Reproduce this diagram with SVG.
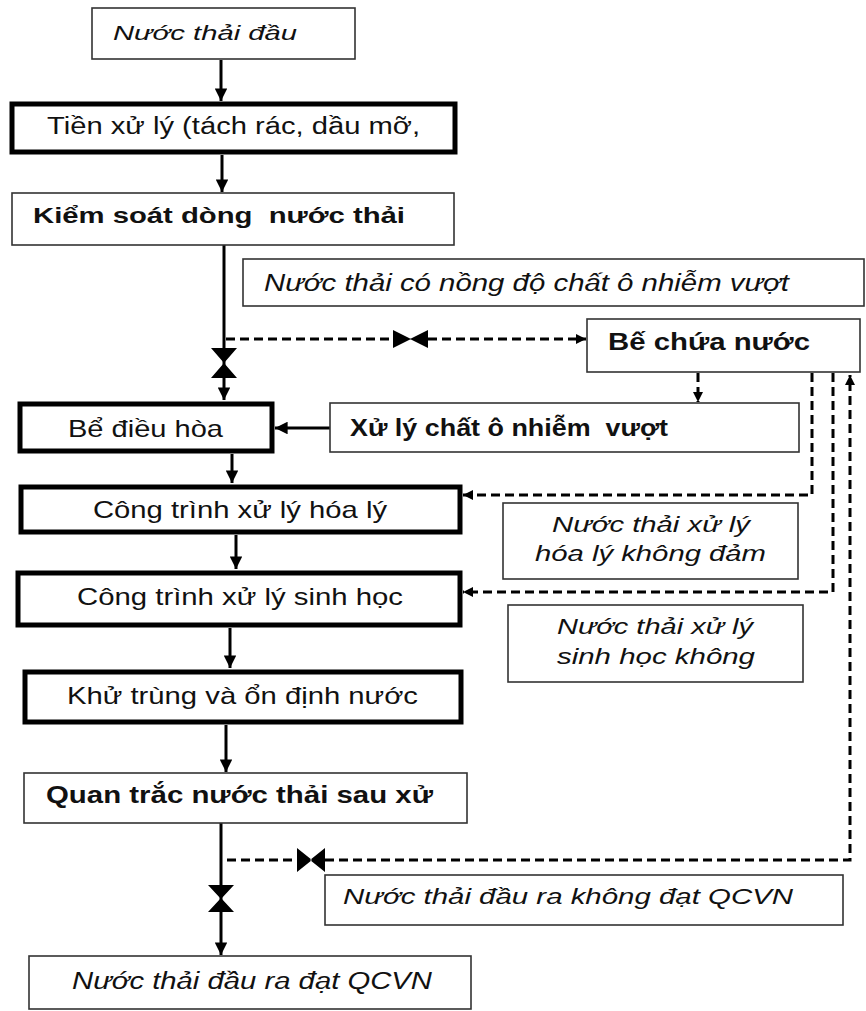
<svg xmlns="http://www.w3.org/2000/svg" width="866" height="1011" viewBox="0 0 866 1011">
<defs>
<style>
.thin{fill:#fff;stroke:#333;stroke-width:1.6}
.thick{fill:#fff;stroke:#000;stroke-width:5}
.t{font-family:"Liberation Sans",Arial,sans-serif;font-size:24px;fill:#111;white-space:pre}
.i{font-style:italic;font-size:22px}
.b{font-weight:bold;font-size:23px}
.ln{stroke:#000;stroke-width:3;fill:none}
.dl{stroke:#000;stroke-width:3;fill:none;stroke-dasharray:9 5}
.v{fill:#000}
</style>
<marker id="ah" viewBox="0 0 10 10" refX="10" refY="5" markerWidth="4.2" markerHeight="4.2" orient="auto" markerUnits="strokeWidth"><path d="M0,0L10,5L0,10z" fill="#000"/></marker>
<marker id="ahs" viewBox="0 0 10 10" refX="10" refY="5" markerWidth="3.4" markerHeight="3.4" orient="auto" markerUnits="strokeWidth"><path d="M0,0L10,5L0,10z" fill="#000"/></marker>
</defs>
<rect width="866" height="1011" fill="#fff"/>

<g id="connectors">
<line class="ln" x1="221" y1="60" x2="221" y2="101" marker-end="url(#ah)"/>
<line class="ln" x1="222" y1="155" x2="222" y2="192" marker-end="url(#ah)"/>
<line class="ln" x1="224" y1="245" x2="224" y2="400" marker-end="url(#ah)"/>
<line class="ln" x1="330" y1="428" x2="275" y2="428" marker-end="url(#ah)"/>
<line class="ln" x1="232" y1="454" x2="232" y2="483" marker-end="url(#ah)"/>
<line class="ln" x1="236" y1="535" x2="236" y2="569" marker-end="url(#ah)"/>
<line class="ln" x1="230" y1="628" x2="230" y2="668" marker-end="url(#ah)"/>
<line class="ln" x1="226" y1="725" x2="226" y2="772" marker-end="url(#ah)"/>
<line class="ln" x1="221" y1="823" x2="221" y2="955" marker-end="url(#ah)"/>
<polyline class="dl" points="226,339 393,339"/>
<line class="dl" x1="428" y1="339" x2="586" y2="339" marker-end="url(#ahs)"/>
<line class="dl" x1="698" y1="373" x2="698" y2="402" marker-end="url(#ahs)"/>
<polyline class="dl" points="812,373 812,495 463,495" marker-end="url(#ahs)"/>
<polyline class="dl" points="833,373 833,592 463,592" marker-end="url(#ahs)"/>
<polyline class="dl" points="227,860 297,860"/>
<polyline class="dl" points="325,860 850,860 850,375" marker-end="url(#ahs)"/>
<path class="v" d="M393,330L411,339L393,348zM428,330L410,339L428,348z"/>
<path class="v" d="M211,348L237,348L224,363zM211,378L237,378L224,363z"/>
<path class="v" d="M297,848L312,860L297,872zM325,848L310,860L325,872z"/>
<path class="v" d="M208,885L234,885L221,899zM208,912L234,912L221,898z"/>
</g>

<g id="n1"><rect class="thin" x="92" y="8" width="263" height="51"/><text class="t i" x="113" y="40" style="font-size:21px" textLength="184" lengthAdjust="spacingAndGlyphs">Nước thải đầu</text></g>
<g id="n2"><rect class="thick" x="12" y="104" width="443" height="48"/><text class="t" x="47" y="134" style="font-size:23px" textLength="373" lengthAdjust="spacingAndGlyphs">Tiền xử lý (tách rác, dầu mỡ,</text></g>
<g id="n3"><rect class="thin" x="12" y="193" width="442" height="52"/><text class="t b" x="33" y="223" style="font-size:22px" textLength="372" lengthAdjust="spacingAndGlyphs" xml:space="preserve">Kiểm soát dòng  nước thải</text></g>
<g id="lbl1"><rect class="thin" x="243" y="259" width="621" height="47"/><text class="t i" x="264" y="291" style="font-size:23px" textLength="525" lengthAdjust="spacingAndGlyphs">Nước thải có nồng độ chất ô nhiễm vượt</text></g>
<g id="n4"><rect class="thin" x="587" y="319" width="273" height="53"/><text class="t b" x="608" y="350" textLength="202" lengthAdjust="spacingAndGlyphs">Bế chứa nước</text></g>
<g id="n5"><rect class="thick" x="20" y="404" width="252" height="47"/><text class="t" x="68" y="437" textLength="155" lengthAdjust="spacingAndGlyphs">Bể điều hòa</text></g>
<g id="n6"><rect class="thin" x="330" y="403" width="469" height="49"/><text class="t b" x="350" y="436" textLength="318" lengthAdjust="spacingAndGlyphs" xml:space="preserve">Xử lý chất ô nhiễm  vượt</text></g>
<g id="n7"><rect class="thick" x="21" y="487" width="439" height="45"/><text class="t" x="93" y="518" textLength="294" lengthAdjust="spacingAndGlyphs">Công trình xử lý hóa lý</text></g>
<g id="lbl2"><rect class="thin" x="503" y="503" width="295" height="76"/><text class="t i" x="552" y="532" textLength="198" lengthAdjust="spacingAndGlyphs">Nước thải xử lý</text><text class="t i" x="535" y="561" textLength="231" lengthAdjust="spacingAndGlyphs">hóa lý không đảm</text></g>
<g id="n8"><rect class="thick" x="18" y="573" width="442" height="52"/><text class="t" x="77" y="605" textLength="326" lengthAdjust="spacingAndGlyphs">Công trình xử lý sinh học</text></g>
<g id="lbl3"><rect class="thin" x="508" y="605" width="295" height="77"/><text class="t i" x="557" y="634" textLength="196" lengthAdjust="spacingAndGlyphs">Nước thải xử lý</text><text class="t i" x="557" y="664" textLength="198" lengthAdjust="spacingAndGlyphs">sinh học không</text></g>
<g id="n9"><rect class="thick" x="25" y="672" width="436" height="50"/><text class="t" x="67" y="704" textLength="351" lengthAdjust="spacingAndGlyphs">Khử trùng và ổn định nước</text></g>
<g id="n10"><rect class="thin" x="24" y="773" width="443" height="50"/><text class="t b" x="46" y="803" textLength="387" lengthAdjust="spacingAndGlyphs">Quan trắc nước thải sau xử</text></g>
<g id="lbl4"><rect class="thin" x="325" y="875" width="518" height="50"/><text class="t i" x="343" y="904" textLength="450" lengthAdjust="spacingAndGlyphs">Nước thải đầu ra không đạt QCVN</text></g>
<g id="n11"><rect class="thin" x="29" y="956" width="442" height="53"/><text class="t i" x="72" y="989" style="font-size:23px" textLength="360" lengthAdjust="spacingAndGlyphs">Nước thải đầu ra đạt QCVN</text></g>
</svg>
